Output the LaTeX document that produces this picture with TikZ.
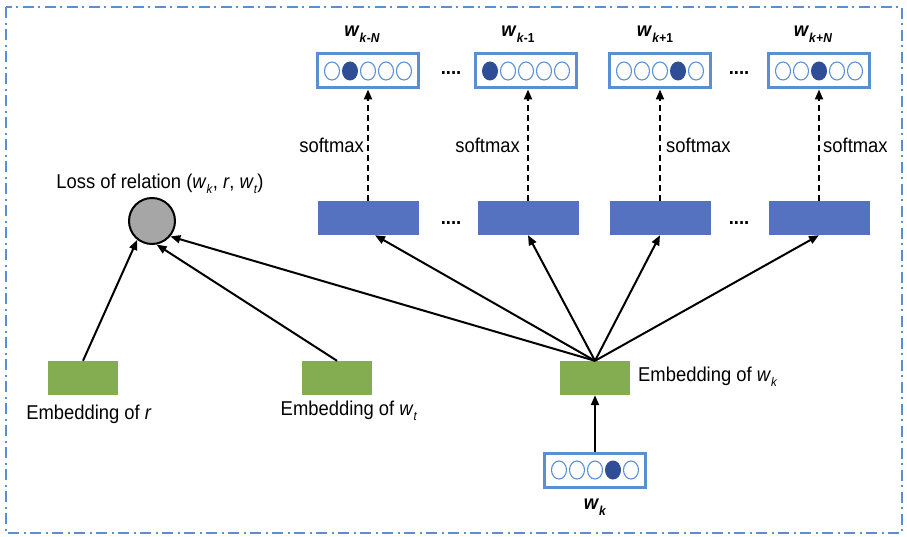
\documentclass[tikz,border=0pt]{standalone}
\usepackage{fontspec}
\setmainfont{Liberation Sans}[FakeStretch=0.92]
\usetikzlibrary{arrows.meta}
\definecolor{vblue}{RGB}{91,143,212}
\definecolor{dkblue}{RGB}{47,78,150}
\definecolor{rblue}{RGB}{84,114,192}
\definecolor{egreen}{RGB}{132,172,80}
\definecolor{cgray}{RGB}{166,166,166}
\newcommand\wsb[1]{\textit{w}\raisebox{-0.5ex}{\fontsize{12.5}{12.5}\selectfont\textit{#1}}}
\newcommand\wbold[1]{\textbf{\textit{w}}\raisebox{-0.55ex}{\fontsize{13}{13}\selectfont\bfseries #1}}
\begin{document}
\begin{tikzpicture}[x=1pt,y=-1pt,
  every node/.style={font=\fontsize{20}{23}\selectfont, inner sep=0pt},
  vecbox/.style={draw=vblue, line width=3pt, minimum width=101pt, minimum height=34pt},
  hidbox/.style={fill=rblue, minimum width=101pt, minimum height=34pt},
  embbox/.style={fill=egreen, minimum width=70pt, minimum height=34pt},
  lossnode/.style={circle, draw=black, line width=2pt, fill=cgray, minimum size=46pt},
  arr/.style={-{Triangle[length=10pt,width=8pt]}, line width=2pt},
  darr/.style={-{Triangle[length=10pt,width=8pt]}, line width=2pt, dash pattern=on 6pt off 4pt},
  dotsl/.style={font=\fontsize{20}{23}\selectfont\bfseries, anchor=base}
]
\useasboundingbox (0,0) rectangle (907,537);
\draw[vblue, line width=2.5pt, dash pattern=on 11pt off 5pt on 2pt off 4pt] (6,7) rectangle (902,533);

% one-hot vectors
\foreach \n/\cx/\cy/\f in {v1/368/71/2, v2/526/71/1, v3/660/71/4, v4/819/71/3, vb/595/470/4}{
  \node[vecbox] (\n) at (\cx,\cy) {};
  \foreach \i in {1,...,5}{
    \pgfmathsetmacro\ex{\cx+18*(\i-3)}
    \ifnum\i=\f
      \fill[dkblue] (\ex,\cy) ellipse [x radius=8pt, y radius=9.5pt];
    \else
      \draw[vblue, line width=1.1pt] (\ex,\cy) ellipse [x radius=7.5pt, y radius=9pt];
    \fi
  }
}
\node (l1) at (362,34) {\wbold{\textit{k}-\textit{N}}};
\node (l2) at (518,34) {\wbold{\textit{k}-1}};
\node (l3) at (655,34) {\wbold{\textit{k}+1}};
\node (l4) at (813,34) {\wbold{\textit{k}+\textit{N}}};
\node[dotsl] (d1) at (451,75) {....};
\node[dotsl] (d2) at (739,75) {....};

% hidden / output layers
\node[hidbox] (b1) at (368,218) {};
\node[hidbox] (b2) at (528,218) {};
\node[hidbox] (b3) at (660,218) {};
\node[hidbox] (b4) at (819,218) {};
\node[dotsl] (d3) at (451,225) {....};
\node[dotsl] (d4) at (739,225) {....};

\foreach \b/\v in {b1/v1, b2/v2, b3/v3, b4/v4}{
  \draw[darr] (\b.north) -- (\b.north |- \v.south);
}
\node[anchor=east] (s1) at (364,145) {softmax};
\node[anchor=east] (s2) at (520,145) {softmax};
\node[anchor=west] (s3) at (666,145) {softmax};
\node[anchor=west] (s4) at (823,145) {softmax};

% embeddings
\node[embbox] (gr) at (83,378) {};
\node[embbox] (gt) at (337,378) {};
\node[embbox] (gk) at (595,378) {};
\node (er) at (89,414) {Embedding of \textit{r}};
\node (et) at (349,411) {Embedding of \wsb{t}};
\node[anchor=west] (ek) at (638,377) {Embedding of \wsb{k}};
\node (wk) at (595,507) {\wbold{\textit{k}}};

% loss
\node[lossnode] (c) at (152,221) {};
\node (lc) at (160,184) {Loss of relation (\wsb{k}, \textit{r}, \wsb{t})};

% connectors
\draw[arr] (vb.north) -- (gk.south);
\draw[arr] (gk.north) -- ([xshift=7pt]b1.south);
\draw[arr] (gk.north) -- (b2.south);
\draw[arr] (gk.north) -- (b3.south);
\draw[arr] (gk.north) -- (b4.south);
\draw[arr] (gk.north) -- (c.320);
\draw[arr] (gt.north) -- (c.281);
\draw[arr] (gr.north) -- (c.232);
\end{tikzpicture}
\end{document}
